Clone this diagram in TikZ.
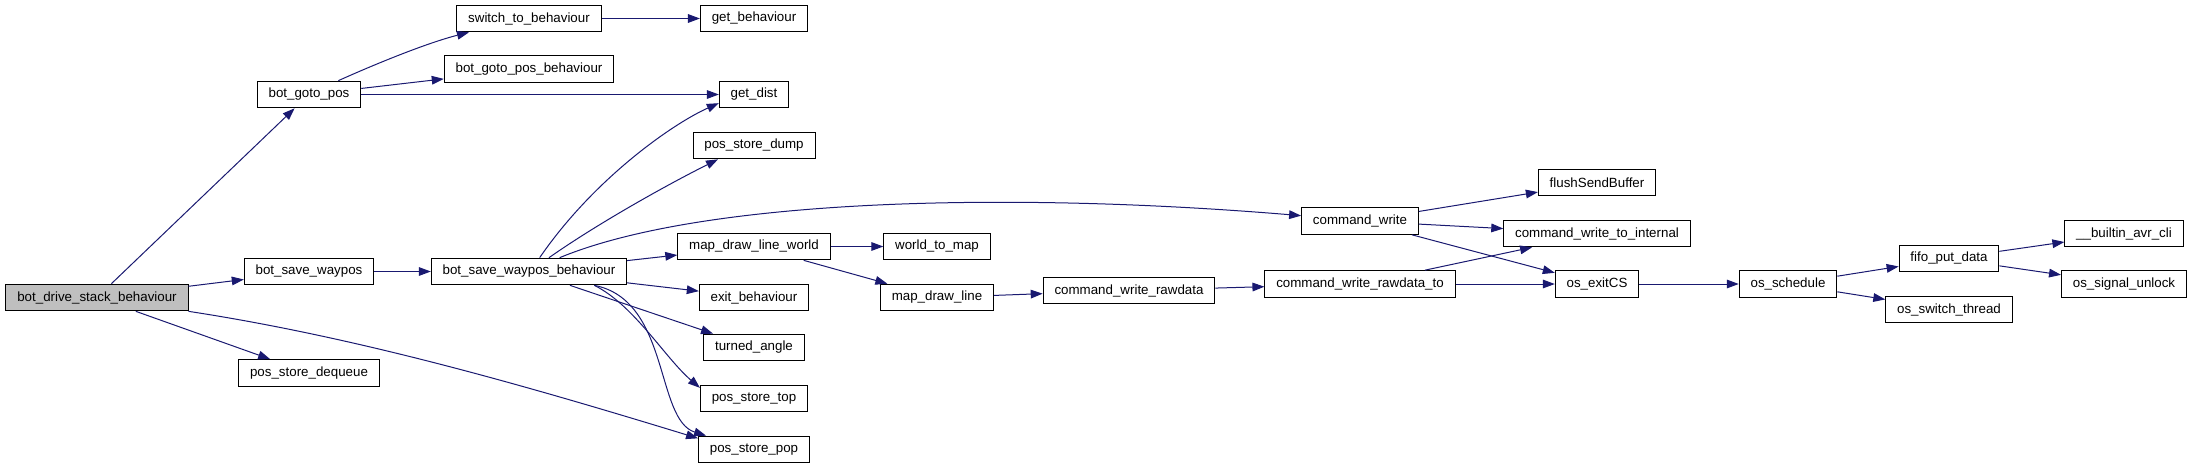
\documentclass[tikz,border=0pt]{standalone}
\usepackage{fontspec}
\setmainfont{Liberation Sans}
\usetikzlibrary{arrows.meta}
\definecolor{edgeBlue}{HTML}{191970}
\definecolor{callerGrey}{HTML}{BFBFBF}

\begin{document}
\begin{tikzpicture}[x=0.75pt, y=-0.75pt,
  every node/.style={text=black, font=\fontsize{10}{12}\selectfont},
  call/.style={-{Triangle[length=9pt,width=6.5pt]}, draw=edgeBlue, line width=0.75pt},
  fn/.style={draw=black, line width=0.75pt, fill=white, minimum height=20pt,
             inner xsep=8.5pt, inner ysep=0pt},
  caller/.style={fn, fill=callerGrey}]

  \useasboundingbox (0,0) rectangle (2195,468);

  %% ═══════════════════════════════════════════════════════════════
  %% RANK 0-2: CALLER AND BEHAVIOURS
  %% ═══════════════════════════════════════════════════════════════

  \node[caller] (drive) at (97,297.5) {bot\_drive\_stack\_behaviour};

  \node[fn] (gotopos) at (309,94.5)  {bot\_goto\_pos};
  \node[fn] (savewp)  at (309,271.5) {bot\_save\_waypos};
  \node[fn] (dequeue) at (309,373)   {pos\_store\_dequeue};

  \node[fn] (switchb) at (529,18.5)  {switch\_to\_behaviour};
  \node[fn] (gotobeh) at (529,69)    {bot\_goto\_pos\_behaviour};
  \node[fn] (savebeh) at (529,271.5) {bot\_save\_waypos\_behaviour};

  %% ═══════════════════════════════════════════════════════════════
  %% RANK 3-4: HELPERS AND MAP
  %% ═══════════════════════════════════════════════════════════════

  \node[fn] (getbeh)  at (754,18.5)  {get\_behaviour};
  \node[fn] (getdist) at (754,94.5)  {get\_dist};
  \node[fn] (dump)    at (754,145.5) {pos\_store\_dump};
  \node[fn] (mdlw)    at (754,246.5) {map\_draw\_line\_world};
  \node[fn] (exitb)   at (754,297.5) {exit\_behaviour};
  \node[fn] (turned)  at (754,347.5) {turned\_angle};
  \node[fn] (top)     at (754,398.5) {pos\_store\_top};
  \node[fn] (pop)     at (754,449.5) {pos\_store\_pop};

  \node[fn] (w2m)     at (937,246.5) {world\_to\_map};
  \node[fn] (mdl)     at (937,297.5) {map\_draw\_line};

  %% ═══════════════════════════════════════════════════════════════
  %% RANK 5-10: COMMAND AND OS LAYER
  %% ═══════════════════════════════════════════════════════════════

  \node[fn] (cwraw)   at (1129,290.5) {command\_write\_rawdata};
  \node[fn] (cwrite)  at (1360,221)   {command\_write};
  \node[fn] (cwrawto) at (1360,284)   {command\_write\_rawdata\_to};

  \node[fn] (flush)   at (1597,182.5) {flushSendBuffer};
  \node[fn] (cwint)   at (1597,233.5) {command\_write\_to\_internal};
  \node[fn] (exitcs)  at (1597,284)   {os\_exitCS};

  \node[fn] (sched)   at (1788,284)   {os\_schedule};
  \node[fn] (fifo)    at (1949,258.5) {fifo\_put\_data};
  \node[fn] (swthr)   at (1949,309.5) {os\_switch\_thread};
  \node[fn] (cli)     at (2124,233.5) {\_\_builtin\_avr\_cli};
  \node[fn] (unlock)  at (2124,284)   {os\_signal\_unlock};

  %% ═══════════════════════════════════════════════════════════════
  %% CALLS
  %% ═══════════════════════════════════════════════════════════════

  \draw[call] (drive) -- (gotopos);
  \draw[call] (drive) -- (savewp);
  \draw[call] (drive) -- (dequeue);
  \draw[call] (drive.south east) .. controls +(170,26) and +(-170,-52) .. ([yshift=-2pt]pop.north west);

  \draw[call] ([xshift=22pt]gotopos.north) .. controls +(40,-18) and +(-40,10) .. ([xshift=-45pt]switchb.south);
  \draw[call] (gotopos) -- (gotobeh);
  \draw[call] (gotopos) -- (getdist);
  \draw[call] (switchb) -- (getbeh);
  \draw[call] (savewp) -- (savebeh);

  \draw[call] ([xshift=8pt]savebeh.north) .. controls +(55,-80) and +(-45,20) .. ([yshift=-6.5pt]getdist.west);
  \draw[call] ([xshift=15pt]savebeh.north) .. controls +(50,-35) and +(-50,25) .. ([xshift=-27pt]dump.south);
  \draw[call] ([xshift=23pt]savebeh.north) .. controls +(140,-58) and +(-300,-25) .. ([yshift=4pt]cwrite.west);
  \draw[call] (savebeh) -- (mdlw);
  \draw[call] (savebeh) -- (exitb);
  \draw[call] (savebeh) -- (turned);
  \draw[call] ([xshift=49pt]savebeh.south) .. controls +(40,20) and +(-35,-30) .. ([yshift=8pt]top.west);
  \draw[call] ([xshift=49pt]savebeh.south) .. controls +(76,15) and +(-51,-16) .. ([xshift=6pt]pop.north west);

  \draw[call] (mdlw) -- (w2m);
  \draw[call] (mdlw) -- (mdl);
  \draw[call] (mdl) -- (cwraw);
  \draw[call] (cwraw) -- (cwrawto);

  \draw[call] (cwrite) -- (flush);
  \draw[call] (cwrite) -- (cwint);
  \draw[call] (cwrite) -- (exitcs);
  \draw[call] (cwrawto) -- (cwint);
  \draw[call] (cwrawto) -- (exitcs);

  \draw[call] (exitcs) -- (sched);
  \draw[call] (sched) -- (fifo);
  \draw[call] (sched) -- (swthr);
  \draw[call] (fifo) -- (cli);
  \draw[call] (fifo) -- (unlock);

\end{tikzpicture}
\end{document}
